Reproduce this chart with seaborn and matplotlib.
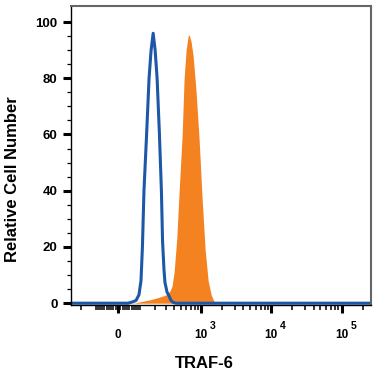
import numpy as np
import matplotlib
matplotlib.use('Agg')
import matplotlib.pyplot as plt
import seaborn as sns

# isotype control (blue outline) - intensity vs relative count
ctrl_x = [-291, 44, 67, 82, 97, 108, 116, 125, 141, 157, 171, 186, 201, 217, 237, 255,
          266, 280, 290, 312, 335, 359, 385, 429, 262144]
ctrl_y = [0, 0, 0.5, 1, 3, 8, 20, 40, 60, 80, 90, 96, 90, 80, 60, 40,
          22, 12, 7.4, 4, 2.6, 1, 0.3, 0, 0]

# TRAF-6 stained (orange filled)
traf_x = [67, 103, 164, 243, 290, 323, 348, 372, 400, 438, 476, 527, 563, 602, 644, 666,
          711, 761, 841, 930, 1027, 1134, 1252, 1382, 1526, 1686]
traf_y = [0, 0.5, 1.2, 2.2, 2.8, 3.3, 4.5, 6, 11, 22.7, 40, 60, 80, 90, 95, 95.5,
          93, 88, 75, 58, 37, 19, 8, 3, 0.5, 0]

x_major = [0, 1e3, 1e4, 1e5]
x_major_labels = ['0', '10', '10', '10']
x_exponents = ['', '3', '4', '5']
y_major = [0, 20, 40, 60, 80, 100]

W = 130.0
def fwd(x):
    return np.arcsinh(np.asarray(x, dtype=float) / W)
def inv(y):
    return W * np.sinh(np.asarray(y, dtype=float))

sns.set_theme(style='ticks')
plt.rcParams['font.family'] = ['Liberation Sans', 'DejaVu Sans']
plt.rcParams['text.color'] = 'black'
plt.rcParams['axes.labelcolor'] = 'black'
plt.rcParams['xtick.color'] = 'black'
plt.rcParams['ytick.color'] = 'black'

fig = plt.figure(figsize=(3.75, 3.75), dpi=100)
ax = fig.add_axes([0.189, 0.187, 0.8, 0.797])
ax.set_xscale('function', functions=(fwd, inv))

ax.fill_between(traf_x, traf_y, 0, color='#F58220', lw=0)
sns.lineplot(x=ctrl_x, y=ctrl_y, ax=ax, color='#1C57A8', lw=2.2, sort=False)

ax.set_xlim(-291, 262144)
ax.set_ylim(-0.6, 105.7)

minor = []
for k in [1, 2]:
    for m in range(1, 10):
        v = m * 10 ** k
        if v <= 291:
            minor.append(-v)
        minor.append(v)
for k in [3, 4, 5]:
    for m in range(2, 10):
        v = m * 10 ** k
        if v < 262144:
            minor.append(v)
minor = sorted(minor)

ax.set_xticks(x_major)
ax.set_xticklabels(x_major_labels)
ax.set_xticks(minor, minor=True)
ax.set_yticks(y_major)
ax.set_yticks([v for v in range(5, 105, 5) if v % 20], minor=True)

ax.tick_params(axis='y', which='major', length=6, width=2.2, colors='black', pad=3.5,
               labelsize=9.5)
ax.tick_params(axis='y', which='minor', length=3, width=0.9, colors='black')
ax.tick_params(axis='x', which='major', length=6, width=2.2, colors='black', pad=18,
               labelsize=8.5)
ax.tick_params(axis='x', which='minor', length=3.5, width=1.1, colors='black')
for lab in ax.get_yticklabels():
    lab.set_fontweight('bold')
for lab in ax.get_xticklabels():
    lab.set_fontweight('bold')
    lab.set_verticalalignment('baseline')

# exponents of the decade labels
for v, e in zip(x_major, x_exponents):
    if e:
        ax.annotate(e, xy=(v, 0), xycoords=('data', 'axes fraction'),
                    xytext=(6.4, -17.3), textcoords='offset points',
                    ha='left', va='baseline', fontsize=7.5, fontweight='bold')

for s in ['top', 'right']:
    ax.spines[s].set_color('#666666')
    ax.spines[s].set_linewidth(1.5)
for s in ['left', 'bottom']:
    ax.spines[s].set_color('black')
    ax.spines[s].set_linewidth(1.0)

ax.set_xlabel('TRAF-6', fontsize=12, fontweight='bold', color='black')
ax.xaxis.set_label_coords(0.445, -0.172)
ax.set_ylabel('Relative Cell Number', fontsize=12, fontweight='bold', color='black')
ax.yaxis.set_label_coords(-0.17, 0.421)

fig.savefig('out.png', dpi=100)
